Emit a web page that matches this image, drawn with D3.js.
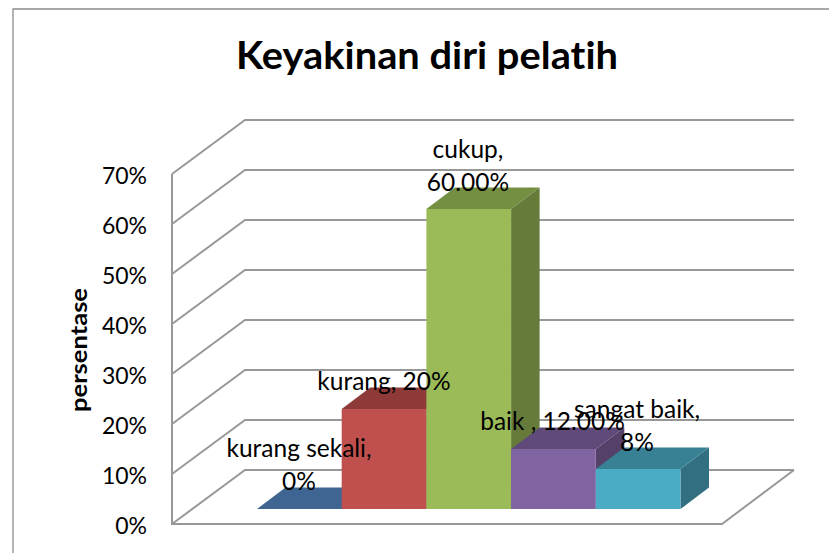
<!DOCTYPE html>
<html><head><meta charset="utf-8">
<script src="https://cdn.jsdelivr.net/npm/d3@7/dist/d3.min.js"></script>
<style>html,body{margin:0;padding:0;background:#fff}svg{display:block}text{font-family:Lato,"Open Sans",sans-serif;fill:#000;font-variant-ligatures:none}</style>
</head><body><div id="c"></div>
<script>
const categories=["kurang sekali","kurang","cukup","baik","sangat baik"];
const values=[0,20,60,12,8];
const labelLines=[["kurang sekali,","0%"],["kurang, 20%"],["cukup,","60.00%"],["baik , 12.00%"],["sangat baik,","8%"]];
const tickValues=[0,10,20,30,40,50,60,70];
const colorsFront=["#4f81bd","#c0504d","#9bbb59","#8064a2","#4bacc6"];
const colorsTop=["#3f6592","#8e3a38","#748e42","#5f4a79","#388194"];
const colorsSide=["#35557b","#7a3230","#667a3a","#554069","#326f80"];

const W=829,H=553;
const svg=d3.select("#c").append("svg").attr("width",W).attr("height",H);
const grid="#989898";
// geometry
const wallX=172,floorRight=722,backDx=73,backDy=-54;
const barDx=28.5,barDy=-21.5;
const y=d3.scaleLinear().domain([0,70]).range([524,174]);
const yBar=d3.scaleLinear().domain([0,70]).range([509,159]);
const x=d3.scaleBand().domain(categories).range([257,680.5]).padding(0);
const line=d3.line();
// chart frame
svg.append("path").attr("d",line([[13,553],[13,9],[829,9]])).attr("fill","none").attr("stroke","#8c8c8c").attr("stroke-width",1.3);
// gridlines
svg.append("g").selectAll("path").data(tickValues).join("path")
 .attr("d",d=>line([[wallX,y(d)],[wallX+backDx,y(d)+backDy],[794,y(d)+backDy]]))
 .attr("fill","none").attr("stroke",grid).attr("stroke-width",2);
// left wall and floor front
svg.append("path").attr("d",line([[wallX,y(70)],[wallX,y(0)],[floorRight,y(0)],[794,y(0)+backDy]]))
 .attr("fill","none").attr("stroke",grid).attr("stroke-width",2);
// bars
const bars=svg.append("g").selectAll("g").data(categories).join("g");
bars.append("path").attr("fill",(d,i)=>colorsSide[i]).attr("d",(d,i)=>{const r=x(d)+x.bandwidth(),t=yBar(values[i]),b=yBar(0);
 return line([[r,t],[r+barDx,t+barDy],[r+barDx,b+barDy],[r,b]])+"Z";});
bars.append("path").attr("fill",(d,i)=>colorsTop[i]).attr("d",(d,i)=>{const l=x(d),r=l+x.bandwidth(),t=yBar(values[i]);
 return line([[l,t],[l+barDx,t+barDy],[r+barDx,t+barDy],[r,t]])+"Z";});
bars.append("rect").attr("fill",(d,i)=>colorsFront[i]).attr("x",d=>x(d)).attr("width",x.bandwidth())
 .attr("y",(d,i)=>yBar(values[i])).attr("height",(d,i)=>yBar(0)-yBar(values[i]));
// y axis
const ax=svg.append("g").attr("transform","translate(147,2)").call(d3.axisLeft(y).tickValues(tickValues).tickFormat(d=>d+"%").tickSize(0).tickPadding(0));
ax.select(".domain").remove();
ax.selectAll("text").attr("font-size",23).style("font-family","Lato");
// title
svg.append("text").attr("x",427).attr("y",69).attr("text-anchor","middle").attr("font-size",38).attr("font-weight",700)
 .attr("textLength",382).attr("lengthAdjust","spacingAndGlyphs").text("Keyakinan diri pelatih");
svg.append("text").attr("transform","translate(87,350) rotate(-90)").attr("text-anchor","middle").attr("font-size",22).attr("font-weight",700)
 .attr("textLength",124).attr("lengthAdjust","spacingAndGlyphs").text("persentase");
// labels
const labelPos=[[299,457],[384,390],[468,158],[552.5,430],[637,418]];
const lab=svg.append("g").selectAll("text").data(labelLines).join("text")
 .attr("text-anchor","middle").attr("font-size",24.5);
lab.each(function(lines,i){d3.select(this).selectAll("tspan").data(lines).join("tspan")
 .attr("x",labelPos[i][0]).attr("y",(d,j)=>labelPos[i][1]+j*32.5).text(d=>d);});
</script></body></html>
